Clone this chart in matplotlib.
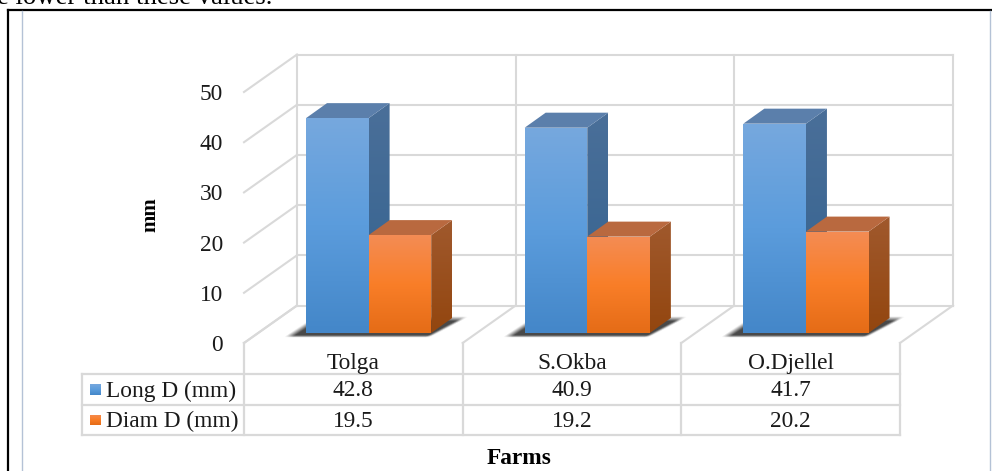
import numpy as np
import matplotlib
matplotlib.use("Agg")
import matplotlib.pyplot as plt
from matplotlib.colors import LinearSegmentedColormap
from matplotlib.patches import Polygon

plt.rcParams["font.family"] = ["Liberation Serif", "DejaVu Serif"]

# data
farms = ["Tolga", "S.Okba", "O.Djellel"]
long_d = [42.8, 40.9, 41.7]
diam_d = [19.5, 19.2, 20.2]
y_ticks = [0, 10, 20, 30, 40, 50]
series_names = ["Long D (mm)", "Diam D (mm)"]

# picture scale: one category = 218.67 px, 10 mm = 50.2 px
X_PX = 218.67
Y_PX = 5.02
X0 = 244
Y0 = 343
GRID = "#d9d9d9"
TXT = "#1a1a1a"
FS = 16.8


def hor(px):
    return px / X_PX


def ver(px):
    return px / Y_PX


def gradient(ax, verts, stops, z):
    # vertical gradient clipped to a polygon
    verts = np.array(verts)
    cmap = LinearSegmentedColormap.from_list("g", stops)
    grad = np.linspace(1, 0, 64).reshape(-1, 1)
    ext = (verts[:, 0].min(), verts[:, 0].max(), verts[:, 1].min(), verts[:, 1].max())
    im = ax.imshow(grad, cmap=cmap, extent=ext, aspect="auto", zorder=z, origin="upper",
                   interpolation="bilinear")
    clip = Polygon(verts, closed=True, transform=ax.transData)
    im.set_clip_path(clip)


def bar3d(ax, left, width, value, front, side, top, z):
    base = ver(10)
    dx, dy = hor(21), ver(15)
    right = left + width
    tip = base + value
    gradient(ax, [(left, base), (right, base), (right, tip), (left, tip)], front, z + 0.2)
    gradient(ax, [(right, base), (right + dx, base + dy), (right + dx, tip + dy), (right, tip)], side, z)
    ax.add_patch(Polygon([(left, tip), (right, tip), (right + dx, tip + dy), (left + dx, tip + dy)],
                         closed=True, fc=top, ec="none", zorder=z + 0.1))


def soft_shadow(ax, left, z):
    # blurred floor shadow, built on a small pixel grid around the bar pair
    lpx = X0 + left * X_PX
    xs, ys = np.meshgrid(np.arange(lpx - 32, lpx + 178), np.arange(310, 342))
    run = (337 - ys) / 21
    d_left = xs - (lpx - 22 + 31 * run)
    d_right = (lpx + 125 + 39 * run) - xs
    d_top = ys - 316
    d_bot = 338 - ys
    alpha = (np.clip(d_left / 9, 0, 1) * np.clip(d_right / 5, 0, 1)
             * np.clip(d_top / 5, 0, 1) * np.clip(d_bot / 2.5, 0, 1)) * 0.85
    rgba = np.zeros(xs.shape + (4,))
    rgba[..., :3] = 0.16
    rgba[..., 3] = alpha
    ext = (hor(xs.min() - X0), hor(xs.max() - X0), ver(343 - ys.max()), ver(343 - ys.min()))
    ax.imshow(rgba, extent=ext, aspect="auto", zorder=z, origin="upper", interpolation="bilinear")


fig = plt.figure(figsize=(9.92, 4.71), dpi=100)
ax = fig.add_axes([0, 0, 1, 1])
ax.axis("off")

dep_x, dep_y = hor(53), ver(37.5)

# back wall and left wall
for t in y_ticks:
    ax.plot([dep_x, 3 + dep_x], [t + dep_y, t + dep_y], color=GRID, lw=1.5, zorder=1)
    ax.plot([0, dep_x], [t, t + dep_y], color=GRID, lw=1.5, zorder=1)
for i in range(4):
    ax.plot([i + dep_x, i + dep_x], [dep_y, y_ticks[-1] + dep_y], color=GRID, lw=1.5, zorder=1)
    ax.plot([i, i + dep_x], [0, dep_y], color=GRID, lw=1.5, zorder=1)

# table grid
row_lines = [ver(343 - 374), ver(343 - 405), ver(343 - 435)]
left_end = hor(82 - X0)
for r in row_lines:
    ax.plot([left_end, 3], [r, r], color=GRID, lw=1.6, zorder=1)
ax.plot([left_end, left_end], row_lines[0:1] + row_lines[2:], color=GRID, lw=1.6, zorder=1)
for i in range(4):
    ax.plot([i, i], [0, row_lines[2]], color=GRID, lw=1.6, zorder=1)

# bars
bar_off = hor(62)
bar_w = hor(62.6)
for i in range(len(farms)):
    left = i + bar_off
    soft_shadow(ax, left, 2)
    bar3d(ax, left, bar_w, long_d[i], ["#4487c9", "#5b9cdc", "#76a8de"],
          ["#33628f", "#4a6f99"], "#5b7fab", 3)
    bar3d(ax, left + bar_w, bar_w, diam_d[i], ["#e56c17", "#f97e28", "#f48c54"],
          ["#93460f", "#a0592d"], "#b9693f", 4)

# axis labels
for t in y_ticks:
    ax.text(hor(223 - X0), t - ver(8), str(t), ha="right", va="baseline", fontsize=FS, color=TXT)
ax.text(hor(150 - X0), ver(343 - 215), "mm", rotation=90, ha="center", va="center",
        fontsize=15, fontweight="bold", color="black")
ax.text(hor(519 - X0), ver(343 - 458), "Farms", ha="center", va="center",
        fontsize=FS, fontweight="bold", color="black")

# table text
mid_1 = (row_lines[0] + row_lines[1]) / 2
mid_2 = (row_lines[1] + row_lines[2]) / 2
base_0, base_1, base_2 = ver(343 - 369), ver(343 - 396.5), ver(343 - 427)
for i, name in enumerate(farms):
    ax.text(i + 0.5, base_0, name, ha="center", va="baseline", fontsize=FS, color=TXT)
    ax.text(i + 0.5, base_1, f"{long_d[i]:.1f}", ha="center", va="baseline", fontsize=FS, color=TXT)
    ax.text(i + 0.5, base_2, f"{diam_d[i]:.1f}", ha="center", va="baseline", fontsize=FS, color=TXT)

# legend keys inside the table
key_w, key_h = hor(11), ver(11)
key_x = hor(90 - X0)
gradient(ax, [(key_x, mid_1 - key_h / 2), (key_x + key_w, mid_1 - key_h / 2),
              (key_x + key_w, mid_1 + key_h / 2), (key_x, mid_1 + key_h / 2)],
         ["#4487c9", "#5b9cdc", "#76a8de"], 3)
gradient(ax, [(key_x, mid_2 - key_h / 2), (key_x + key_w, mid_2 - key_h / 2),
              (key_x + key_w, mid_2 + key_h / 2), (key_x, mid_2 + key_h / 2)],
         ["#e56c17", "#f97e28", "#f48c54"], 3)
ax.text(hor(106 - X0), base_1, series_names[0], ha="left", va="baseline", fontsize=FS, color=TXT)
ax.text(hor(106 - X0), base_2, series_names[1], ha="left", va="baseline", fontsize=FS, color=TXT)

# page around the chart
ax.plot([hor(8 - X0), hor(8 - X0)], [ver(343 - 10), ver(343 - 471)], color="black", lw=1.6, zorder=6)
ax.plot([hor(8 - X0), hor(992 - X0)], [ver(343 - 10), ver(343 - 10)], color="black", lw=1.6, zorder=6)
for px in (21.5, 990):
    ax.plot([hor(px - X0), hor(px - X0)], [ver(343 - 11), ver(343 - 471)], color="#b4c2d6", lw=1.0, zorder=6)
ax.text(hor(-3 - X0), ver(343 - 4), "e lower than these values.", ha="left", va="baseline",
        fontsize=19.3, color="black")

ax.set_xlim(hor(-X0), hor(992 - X0))
ax.set_ylim(ver(343 - 471), ver(343))

fig.savefig("out.png", dpi=100)
